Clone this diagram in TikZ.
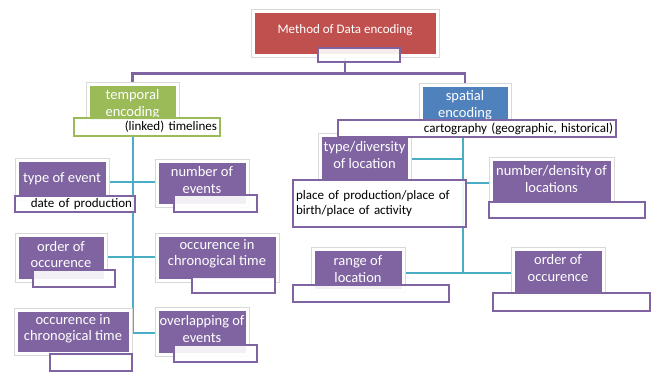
\documentclass[tikz,border=0pt]{standalone}
\usepackage{fontspec}
\setmainfont{Carlito}
\usepackage{tikz}
\usetikzlibrary{backgrounds}

\definecolor{dRed}{HTML}{C0504D}
\definecolor{dGreen}{HTML}{9BBB59}
\definecolor{dBlue}{HTML}{4F81BD}
\definecolor{dPurple}{HTML}{8064A2}
\definecolor{dTeal}{HTML}{4BACC6}

\begin{document}
\begin{tikzpicture}[x=1pt, y=-1pt]
			\tikzstyle{Box}		= [rectangle, inner sep=1pt, draw=white, line width=3pt, preaction={draw=black!15, line width=5pt}]
			\tikzstyle{Caption}	= [align=center, inner sep=0pt, text=white, font=\fontsize{14.5}{16.5}\selectfont]
			\tikzstyle{Red}		= [fill=dRed]
			\tikzstyle{Green}	= [fill=dGreen]
			\tikzstyle{Blue}	= [fill=dBlue]
			\tikzstyle{Purple}	= [fill=dPurple]
			\tikzstyle{Label}	= [rectangle, inner xsep=3pt, inner ysep=1pt, fill=white, fill opacity=0.9, text opacity=1, draw=dPurple, line width=2pt, text=black, font=\fontsize{13}{14.5}\selectfont]
			\tikzstyle{Top}		= [line width=2.5pt, dPurple]
			\tikzstyle{Trunk}	= [line width=2pt, dTeal]

			\useasboundingbox (0,0) rectangle (651,372);

			\node (root) at (345,33) [Box][Red][minimum width=184pt, minimum height=44pt, label={[Caption, font=\fontsize{13}{15}\selectfont, yshift=3pt]center:Method of Data encoding}] {};
			\node (tmp) at (132.5,103) [Box][Green][minimum width=89pt, minimum height=37pt, label={[Caption, yshift=-1pt]center:{temporal\\encoding}}] {};
			\node (spa) at (465,103.5) [Box][Blue][minimum width=88pt, minimum height=37pt, label={[Caption, yshift=-1.5pt]center:{spatial\\encoding}}] {};

			% temporal side
			\node (t1) at (62,179) [Box][Purple][minimum width=90pt, minimum height=38pt, label={[Caption]center:type of event}] {};
			\node (t2) at (202,183) [Box][Purple][minimum width=90pt, minimum height=44pt, label={[Caption, yshift=3pt]center:{number of\\events}}] {};
			\node (t3) at (61,257.5) [Box][Purple][minimum width=88pt, minimum height=45pt, label={[Caption, yshift=3pt]center:{order of\\occurence}}] {};
			\node (t4) at (217,257.5) [Box][Purple][minimum width=120pt, minimum height=45pt, label={[Caption, yshift=3.5pt]center:{occurence in\\chronogical time}}] {};
			\node (t5) at (73,331.5) [Box][Purple][minimum width=114pt, minimum height=43pt, label={[Caption, yshift=2.5pt]center:{occurence in\\chronogical time}}] {};
			\node (t6) at (202,331.5) [Box][Purple][minimum width=90pt, minimum height=45pt, label={[Caption, yshift=2.5pt]center:{overlapping of\\events}}] {};

			% spatial side
			\node (s1) at (364.5,157.5) [Box][Purple][minimum width=89pt, minimum height=45pt, label={[Caption, yshift=2.5pt]center:{type/diversity\\of location}}] {};
			\node (s2) at (551.5,180.5) [Box][Purple][minimum width=121pt, minimum height=43pt, label={[Caption, yshift=1.5pt]center:{number/density of\\locations}}] {};
			\node (s3) at (358,269.5) [Box][Purple][minimum width=90pt, minimum height=41pt, label={[Caption, yshift=0.5pt]center:{range of\\location}}] {};
			\node (s4) at (558,271) [Box][Purple][minimum width=90pt, minimum height=44pt, label={[Caption, yshift=3pt]center:{order of\\occurence}}] {};

			% labels
			\node (rootL) at (359,55) [Label][minimum width=82pt, minimum height=14pt] {};
			\node (tmpL) at (147,127) [Label][draw=dGreen][text width=140pt, align=right, minimum height=18pt] {(linked) timelines};
			\node (spaL) at (477,128.5) [Label][text width=272pt, align=right, minimum height=17pt] {cartography (geographic, historical)};
			\node (t1L) at (75,204) [Label][text width=114pt, align=right, minimum height=16pt] {date of production};
			\node (t2L) at (215.5,203.5) [Label][minimum width=83pt, minimum height=17pt] {};
			\node (t3L) at (74,278.5) [Label][minimum width=82pt, minimum height=17pt] {};
			\node (t4L) at (233.5,285) [Label][minimum width=83pt, minimum height=16pt] {};
			\node (t5L) at (91,362) [Label][minimum width=82pt, minimum height=17pt] {};
			\node (t6L) at (215.5,353.5) [Label][minimum width=83pt, minimum height=17pt] {};
			\node (s1L) at (379.5,203.5) [Label][text width=167pt, align=left, minimum height=47pt] {place of production/place of\\birth/place of activity};
			\node (s2L) at (567,210) [Label][minimum width=156pt, minimum height=16pt] {};
			\node (s3L) at (371,293.5) [Label][minimum width=156pt, minimum height=17pt] {};
			\node (s4L) at (571.5,302) [Label][minimum width=157pt, minimum height=18pt] {};

			\coordinate (tj1) at (133,182);
			\coordinate (tj2) at (133,257);
			\coordinate (tj3) at (133,333);
			\coordinate (sj1) at (463,159);
			\coordinate (sj2) at (463,183);
			\coordinate (sj3) at (463,273);

			\begin{scope}[on background layer]
			\draw [-] (root.south) -- ++(0,17) -| (tmp.north) [Top];
			\draw [-] (root.south) -- ++(0,17) -| (spa.north) [Top];
			\draw [-] (tmpL.south -| tj3) to (tj3) [Trunk];
			\draw [-] (t1.east |- tj1) to (t2.west |- tj1) [Trunk];
			\draw [-] (t3.east |- tj2) to (t4.west |- tj2) [Trunk];
			\draw [-] (tj3) to (t6.west |- tj3) [Trunk];
			\draw [-] (spaL.south -| sj3) to (sj3) [Trunk];
			\draw [-] (s1.east |- sj1) to (sj1) [Trunk];
			\draw [-] (sj2) to (s2.west |- sj2) [Trunk];
			\draw [-] (s3.east |- sj3) to (s4.west |- sj3) [Trunk];
			\end{scope}
		\end{tikzpicture}
\end{document}
